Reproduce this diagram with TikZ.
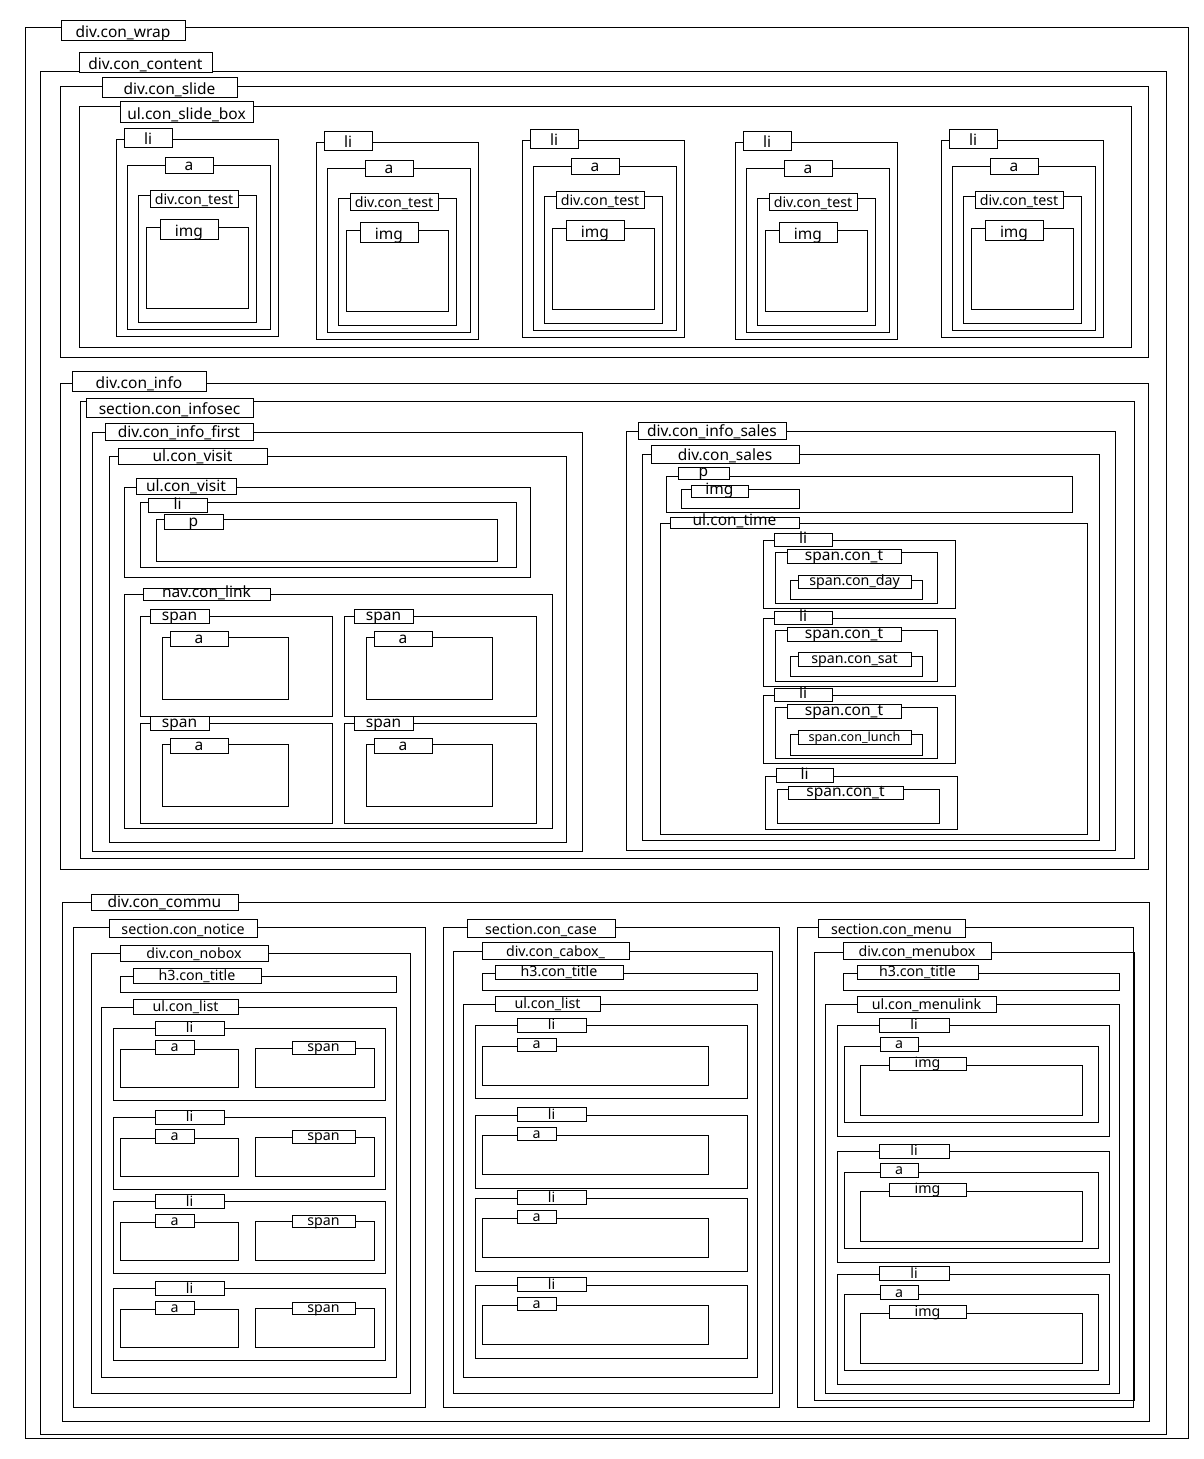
\documentclass[tikz,border=0pt]{standalone}
\usepackage{fontspec}
\setmainfont{Noto Sans}
\usetikzlibrary{fit}

% element box with its name tag on the top edge
\tikzset{
  elline/.style={draw=black, line width=1pt},
  eltag/.style={draw=black, line width=1pt, fill=white, inner sep=0pt, rectangle},
  eltext/.style={inner sep=0pt, anchor=base, yshift=3pt, text=black},
  tagbig/.style={font=\fontsize{15.5}{18}\selectfont},
  tagmid/.style={font=\fontsize{14.2}{16}\selectfont},
  tagsmall/.style={font=\fontsize{12.6}{14}\selectfont}
}
\newcommand{\elbox}[7][tagbig]{%
  \draw[elline] (#3) rectangle (#4);
  \node[eltag, fit={(#5) (#6)}] (#2) {};
  \node[eltext, #1] (#2-t) at (#2.south) {#7};
}

\begin{document}
\begin{tikzpicture}[x=1pt, y=-1pt]
  \useasboundingbox (0,0) rectangle (1204,1459);

  % outer wrappers
  \elbox{wrap}{25,27}{1188,1438}{61,20}{185,40}{div.con\_wrap}
  \elbox{content}{40,71}{1166,1434}{79,52}{212,72}{div.con\_content}

  % slide
  \elbox{slide}{60,86}{1148,357}{102,77}{237,97}{div.con\_slide}
  \elbox{slidebox}{79,106}{1131,347}{120,101}{253,122}{ul.con\_slide\_box}
  \foreach \x/\d/\n in {116/0/1, 316/3/2, 522/1/3, 735/3/4, 941/1/5} {
    \elbox{sli\n}{\x,139+\d}{\x+162,336+\d}{\x+8,128+\d}{\x+56,147+\d}{li}
    \elbox{sa\n}{\x+11,165+\d}{\x+154,329+\d}{\x+49,157+\d}{\x+97,173+\d}{a}
    \elbox[tagmid]{stest\n}{\x+22,195+\d}{\x+140,322+\d}{\x+34,190+\d}{\x+122,207+\d}{div.con\_test}
    \elbox{simg\n}{\x+30,227+\d}{\x+132,308+\d}{\x+44,219+\d}{\x+102,239+\d}{img}
  }

  % info
  \elbox{info}{60,383}{1148,869}{72,371}{206,391}{div.con\_info}
  \elbox{infosec}{80,401}{1134,858}{86,398}{253,417}{section.con\_infosec}
  \elbox{first}{92,432}{582,851}{105,423}{253,440}{div.con\_info\_first}
  \elbox{visitA}{109,456}{566,842}{118,448}{267,464}{ul.con\_visit}
  \elbox{visitB}{124,487}{530,577}{136,478}{236,494}{ul.con\_visit}
  \elbox{vli}{140,502}{516,567}{148,498}{207,512}{li}
  \elbox{vp}{156,519}{497,561}{164,514}{223,529}{p}
  \elbox{nav}{124,594}{552,828}{143,588}{270,600}{nav.con\_link}
  \foreach \x/\y/\n in {0/0/1, 204/0/2, 0/107/3, 204/107/4} {
    \elbox{nspan\n}{140+\x,616+\y}{332+\x,716+\y}{150+\x,609+\y}{209+\x,623+\y}{span}
    \elbox{na\n}{162+\x,637+\y}{288+\x,699+\y}{170+\x,631+\y}{228+\x,646+\y}{a}
  }

  \elbox{infosales}{626,431}{1115,850}{638,422}{786,439}{div.con\_info\_sales}
  \elbox{sales}{642,454}{1099,840}{651,445}{799,463}{div.con\_sales}
  \elbox{salesp}{666,476}{1072,512}{678,467}{729,479}{p}
  \elbox{salesimg}{681,489}{799,508}{691,485}{748,497}{img}
  \elbox{time}{660,523}{1087,834}{670,517}{799,528}{ul.con\_time}
  \foreach \y/\n in {0/1, 78/2, 155/3} {
    \elbox{tli\n}{763,540+\y}{955,608+\y}{774,533+\y}{832,546+\y}{li}
    \elbox{tt\n}{775,552+\y}{937,603+\y}{787,549+\y}{901,563+\y}{span.con\_t}
  }
  \elbox[tagmid]{tday}{790,580}{922,599}{798,575}{911,588}{span.con\_day}
  \elbox[tagmid]{tsat}{790,656}{922,676}{798,652}{911,666}{span.con\_sat}
  \elbox[tagsmall]{tlunch}{790,734}{922,755}{798,730}{911,744}{span.con\_lunch}
  \elbox{tli4}{765,776}{957,829}{776,768}{833,782}{li}
  \elbox{tt4}{777,789}{939,823}{788,786}{903,799}{span.con\_t}

  % commu
  \elbox{commu}{62,902}{1149,1421}{91,894}{238,910}{div.con\_commu}

  \elbox[tagmid]{notice}{73,927}{425,1407}{109,919}{257,937}{section.con\_notice}
  \elbox[tagmid]{nobox}{91,953}{410,1393}{120,945}{268,961}{div.con\_nobox}
  \elbox[tagmid]{ntitle}{120,976}{396,992}{133,968}{261,983}{h3.con\_title}
  \elbox[tagmid]{nlist}{101,1007}{396,1377}{133,999}{238,1014}{ul.con\_list}
  \foreach \t/\n in {1028/1, 1117/2, 1201.5/3, 1288.5/4} {
    \elbox[tagmid]{nli\n}{113,\t}{385,\t+72}{155,\t-7}{224,\t+7}{li}
    \elbox[tagmid]{nla\n}{120,\t+21}{238,\t+59}{155,\t+12.5}{194,\t+26}{a}
    \elbox[tagmid]{nls\n}{255,\t+20}{374,\t+59}{292,\t+13.5}{355,\t+26}{span}
  }

  \elbox[tagmid]{case}{443,927}{779,1407}{467,919}{615,937}{section.con\_case}
  \elbox[tagmid]{cabox}{453,951}{772,1393}{482,942}{629,959}{div.con\_cabox\_}
  \elbox[tagmid]{ctitle}{482,973}{757,990}{495,965}{623,979}{h3.con\_title}
  \elbox[tagmid]{clist}{463,1004}{757,1377}{495,996}{600,1011}{ul.con\_list}
  \foreach \t/\n in {1025.7/1, 1115/2, 1198.3/3, 1285.3/4} {
    \elbox[tagmid]{cli\n}{475,\t}{747,\t+73}{517,\t-7.4}{586,\t+6.6}{li}
    \elbox[tagmid]{cla\n}{482,\t+20.6}{708,\t+59.6}{517,\t+12.6}{556,\t+25.6}{a}
  }

  \elbox[tagmid]{menu}{797,927}{1133,1407}{818,919}{965,937}{section.con\_menu}
  \elbox[tagmid]{menubox}{814,952}{1134,1400}{843,942}{991,959}{div.con\_menubox}
  \elbox[tagmid]{mtitle}{843,973}{1119,990}{857,965}{978,979}{h3.con\_title}
  \elbox[tagmid]{mlink}{825,1004}{1119,1393}{857,996}{996,1012}{ul.con\_menulink}
  \foreach \t/\n in {1025.7/1, 1151.7/2, 1274.3/3} {
    \elbox[tagmid]{mli\n}{837,\t}{1109,\t+110.6}{879,\t-7.4}{949,\t+6.6}{li}
    \elbox[tagmid]{mla\n}{844,\t+20.6}{1098,\t+96.6}{880,\t+11.6}{918,\t+25.6}{a}
    \elbox[tagmid]{mimg\n}{860,\t+39.6}{1082,\t+89.6}{889,\t+31.6}{966,\t+44.6}{img}
  }
\end{tikzpicture}
\end{document}
